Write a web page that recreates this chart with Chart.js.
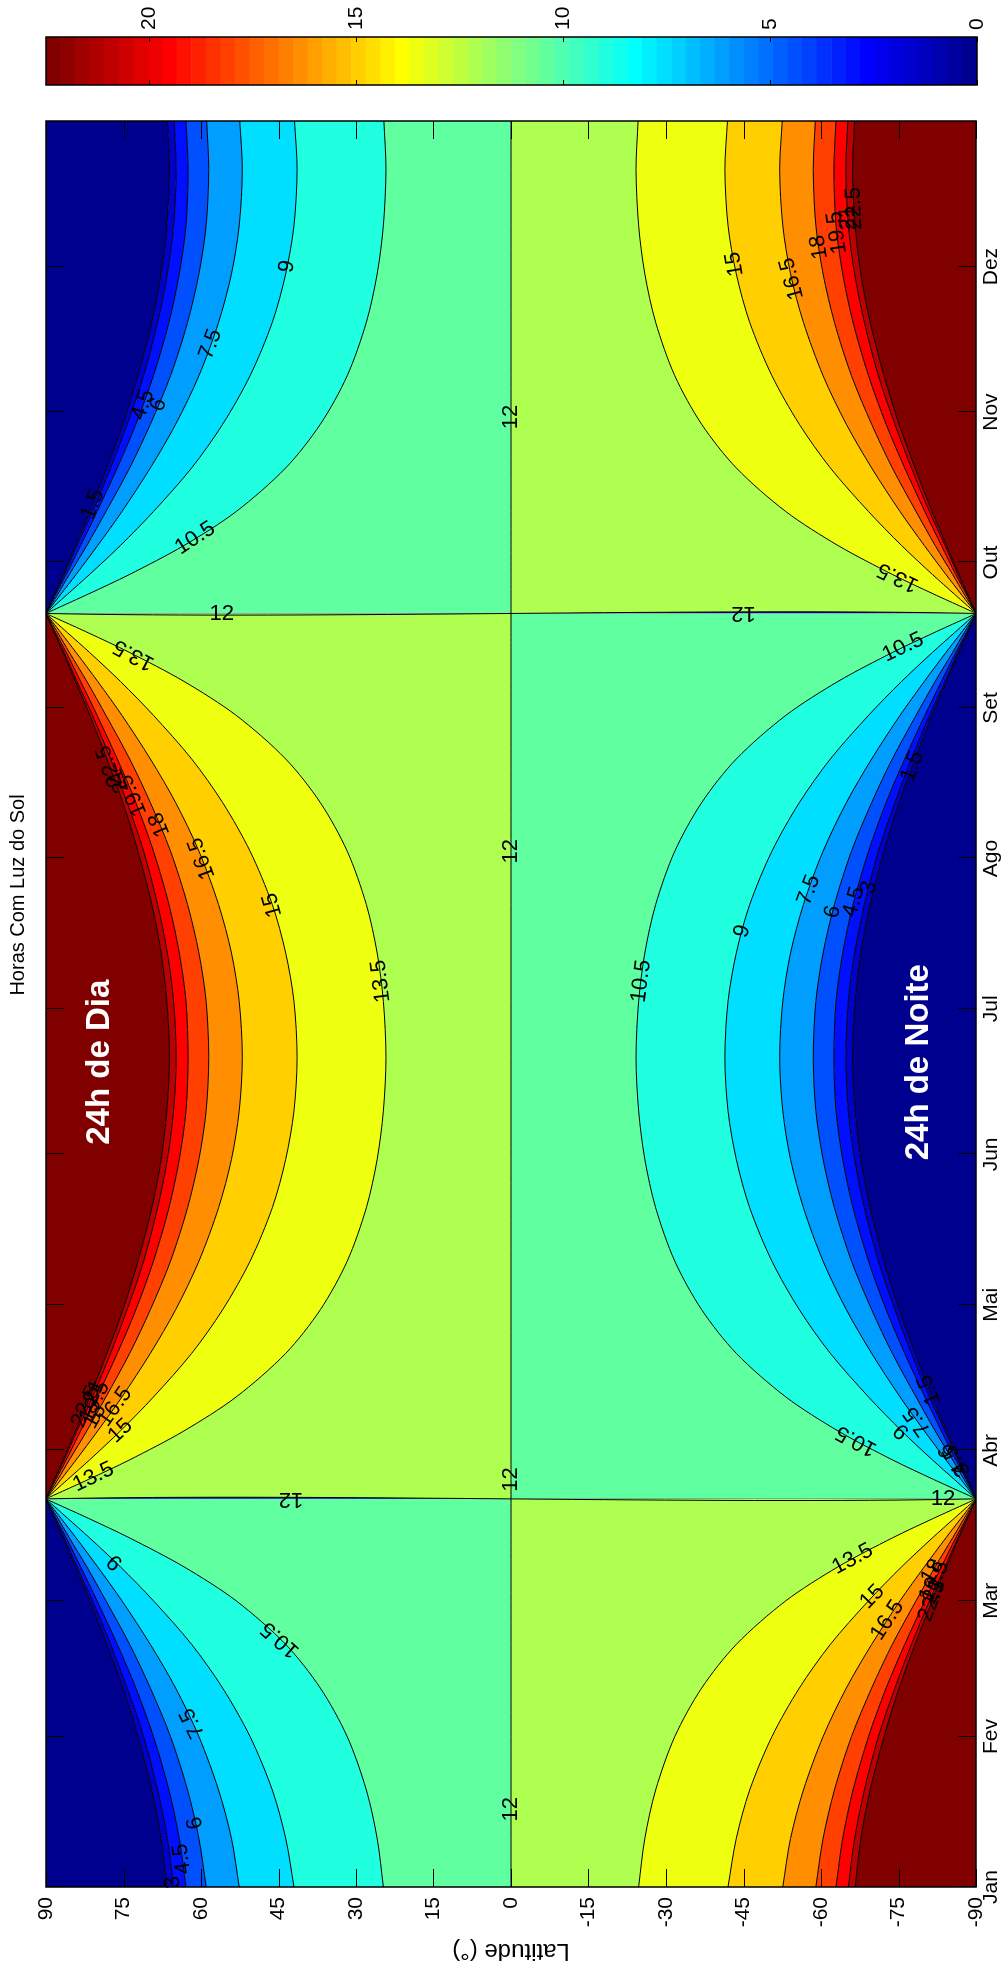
<!DOCTYPE html>
<html>
<head>
<meta charset="utf-8">
<script src="https://cdn.jsdelivr.net/npm/chart.js@4.4.0/dist/chart.umd.min.js"></script>
<style>
html, body { margin: 0; padding: 0; background: #fff; overflow: hidden; width: 1006px; height: 1972px; }
#fig { position: absolute; left: 0; top: 0; width: 1972px; height: 1006px; transform-origin: 0 0; transform: translate(0px, 1972px) rotate(-90deg); }
#main { position: absolute; left: 0; top: 0; }
#cbar { position: absolute; left: 1872px; top: 0; }
</style>
</head>
<body>
<div id="fig">
  <canvas id="main" width="1972" height="1006"></canvas>
  <canvas id="cbar" width="100" height="1006"></canvas>
</div>
<script>
// dia do ano das amostras (81 e 263.5 = equinocios, repetidos para o salto)
var days = [1, 11, 21, 32, 42, 51, 60, 67, 73, 77, 81, 81, 85, 89, 95, 102, 111, 120, 130, 141, 151, 161, 172,
  183.5, 193.5, 203.5, 214.5, 224.5, 233.5, 242.5, 249.5, 255.5, 259.5, 263.5, 263.5,
  267.5, 271.5, 277.5, 284.5, 293.5, 302.5, 312.5, 323.5, 333.5, 343.5, 355, 365];

// latitude de cada curva de nivel (horas de sol) em cada dia
var lat1_5 = [66.6, 67.7, 69.5, 72.2, 75.1, 78.2, 81.5, 84.3, 86.7, 88.4, 90, -90, -88.4, -86.7, -84.3, -81.5, -78.2, -75.1, -72.2, -69.5, -67.7, -66.6, -66.1, -66.6, -67.7, -69.5, -72.2, -75.1, -78.2, -81.5, -84.3, -86.7, -88.4, -90, 90, 88.4, 86.7, 84.3, 81.5, 78.2, 75.1, 72.2, 69.5, 67.7, 66.6, 66.1, 66.5];
var lat3 = [65.3, 66.5, 68.4, 71.1, 74.3, 77.5, 81.0, 84.0, 86.5, 88.3, 90, -90, -88.3, -86.5, -84.0, -81.0, -77.5, -74.3, -71.1, -68.4, -66.5, -65.3, -64.8, -65.3, -66.5, -68.4, -71.1, -74.3, -77.5, -81.0, -84.0, -86.5, -88.3, -90, 90, 88.3, 86.5, 84.0, 81.0, 77.5, 74.3, 71.1, 68.4, 66.5, 65.3, 64.8, 65.2];
var lat4_5 = [62.9, 64.2, 66.2, 69.2, 72.6, 76.2, 80.1, 83.3, 86.1, 88.1, 90, -90, -88.1, -86.1, -83.3, -80.1, -76.2, -72.6, -69.2, -66.2, -64.2, -62.9, -62.5, -62.9, -64.2, -66.2, -69.2, -72.6, -76.2, -80.1, -83.3, -86.1, -88.1, -90, 90, 88.1, 86.1, 83.3, 80.1, 76.2, 72.6, 69.2, 66.2, 64.2, 62.9, 62.5, 62.9];
var lat6 = [59.0, 60.4, 62.6, 65.9, 69.8, 73.8, 78.4, 82.1, 85.5, 87.7, 90, -90, -87.7, -85.5, -82.1, -78.4, -73.8, -69.8, -65.9, -62.6, -60.4, -59.0, -58.5, -59.0, -60.4, -62.6, -65.9, -69.8, -73.8, -78.4, -82.1, -85.5, -87.7, -90, 90, 87.7, 85.5, 82.1, 78.4, 73.8, 69.8, 65.9, 62.6, 60.4, 59.0, 58.5, 58.9];
var lat7_5 = [52.6, 54.1, 56.6, 60.4, 64.9, 69.8, 75.3, 80.0, 84.2, 87.1, 90, -90, -87.1, -84.2, -80.0, -75.3, -69.8, -64.9, -60.4, -56.6, -54.1, -52.6, -52.0, -52.6, -54.1, -56.6, -60.4, -64.9, -69.8, -75.3, -80.0, -84.2, -87.1, -90, 90, 87.1, 84.2, 80.0, 75.3, 69.8, 64.9, 60.4, 56.6, 54.1, 52.6, 52.0, 52.5];
var lat9 = [42.0, 43.6, 46.2, 50.5, 55.8, 61.8, 69.2, 75.6, 81.6, 85.8, 90, -90, -85.8, -81.6, -75.6, -69.2, -61.8, -55.8, -50.5, -46.2, -43.6, -42.0, -41.4, -42.0, -43.6, -46.2, -50.5, -55.8, -61.8, -69.2, -75.6, -81.6, -85.8, -90, 90, 85.8, 81.6, 75.6, 69.2, 61.8, 55.8, 50.5, 46.2, 43.6, 42.0, 41.4, 41.9];
var lat10_5 = [24.7, 25.9, 28.0, 31.7, 36.9, 43.6, 53.2, 63.3, 73.9, 81.8, 90, -90, -81.8, -73.9, -63.3, -53.2, -43.6, -36.9, -31.7, -28.0, -25.9, -24.7, -24.2, -24.7, -25.9, -28.0, -31.7, -36.9, -43.6, -53.2, -63.3, -73.9, -81.8, -90, 90, 81.8, 73.9, 63.3, 53.2, 43.6, 36.9, 31.7, 28.0, 25.9, 24.7, 24.2, 24.6];
var lat12 = [0, 0, 0, 0, 0, 0, 0, 0, 0, 0, 0, 0, 0, 0, 0, 0, 0, 0, 0, 0, 0, 0, 0, 0, 0, 0, 0, 0, 0, 0, 0, 0, 0, 0, 0, 0, 0, 0, 0, 0, 0, 0, 0, 0, 0, 0, 0];
var lat13_5 = [-24.7, -25.9, -28.0, -31.7, -36.9, -43.6, -53.2, -63.3, -73.9, -81.8, -90, 90, 81.8, 73.9, 63.3, 53.2, 43.6, 36.9, 31.7, 28.0, 25.9, 24.7, 24.2, 24.7, 25.9, 28.0, 31.7, 36.9, 43.6, 53.2, 63.3, 73.9, 81.8, 90, -90, -81.8, -73.9, -63.3, -53.2, -43.6, -36.9, -31.7, -28.0, -25.9, -24.7, -24.2, -24.6];
var lat15 = [-42.0, -43.6, -46.2, -50.5, -55.8, -61.8, -69.2, -75.6, -81.6, -85.8, -90, 90, 85.8, 81.6, 75.6, 69.2, 61.8, 55.8, 50.5, 46.2, 43.6, 42.0, 41.4, 42.0, 43.6, 46.2, 50.5, 55.8, 61.8, 69.2, 75.6, 81.6, 85.8, 90, -90, -85.8, -81.6, -75.6, -69.2, -61.8, -55.8, -50.5, -46.2, -43.6, -42.0, -41.4, -41.9];
var lat16_5 = [-52.6, -54.1, -56.6, -60.4, -64.9, -69.8, -75.3, -80.0, -84.2, -87.1, -90, 90, 87.1, 84.2, 80.0, 75.3, 69.8, 64.9, 60.4, 56.6, 54.1, 52.6, 52.0, 52.6, 54.1, 56.6, 60.4, 64.9, 69.8, 75.3, 80.0, 84.2, 87.1, 90, -90, -87.1, -84.2, -80.0, -75.3, -69.8, -64.9, -60.4, -56.6, -54.1, -52.6, -52.0, -52.5];
var lat18 = [-59.0, -60.4, -62.6, -65.9, -69.8, -73.8, -78.4, -82.1, -85.5, -87.7, -90, 90, 87.7, 85.5, 82.1, 78.4, 73.8, 69.8, 65.9, 62.6, 60.4, 59.0, 58.5, 59.0, 60.4, 62.6, 65.9, 69.8, 73.8, 78.4, 82.1, 85.5, 87.7, 90, -90, -87.7, -85.5, -82.1, -78.4, -73.8, -69.8, -65.9, -62.6, -60.4, -59.0, -58.5, -58.9];
var lat19_5 = [-62.9, -64.2, -66.2, -69.2, -72.6, -76.2, -80.1, -83.3, -86.1, -88.1, -90, 90, 88.1, 86.1, 83.3, 80.1, 76.2, 72.6, 69.2, 66.2, 64.2, 62.9, 62.5, 62.9, 64.2, 66.2, 69.2, 72.6, 76.2, 80.1, 83.3, 86.1, 88.1, 90, -90, -88.1, -86.1, -83.3, -80.1, -76.2, -72.6, -69.2, -66.2, -64.2, -62.9, -62.5, -62.9];
var lat21 = [-65.3, -66.5, -68.4, -71.1, -74.3, -77.5, -81.0, -84.0, -86.5, -88.3, -90, 90, 88.3, 86.5, 84.0, 81.0, 77.5, 74.3, 71.1, 68.4, 66.5, 65.3, 64.8, 65.3, 66.5, 68.4, 71.1, 74.3, 77.5, 81.0, 84.0, 86.5, 88.3, 90, -90, -88.3, -86.5, -84.0, -81.0, -77.5, -74.3, -71.1, -68.4, -66.5, -65.3, -64.8, -65.2];
var lat22_5 = [-66.6, -67.7, -69.5, -72.2, -75.1, -78.2, -81.5, -84.3, -86.7, -88.4, -90, 90, 88.4, 86.7, 84.3, 81.5, 78.2, 75.1, 72.2, 69.5, 67.7, 66.6, 66.1, 66.6, 67.7, 69.5, 72.2, 75.1, 78.2, 81.5, 84.3, 86.7, 88.4, 90, -90, -88.4, -86.7, -84.3, -81.5, -78.2, -75.1, -72.2, -69.5, -67.7, -66.6, -66.1, -66.5];

var levels = [1.5, 3, 4.5, 6, 7.5, 9, 10.5, 12, 13.5, 15, 16.5, 18, 19.5, 21, 22.5];
var levelLats = [lat1_5, lat3, lat4_5, lat6, lat7_5, lat9, lat10_5, lat12, lat13_5, lat15, lat16_5, lat18, lat19_5, lat21, lat22_5];

var monthDays = [1, 32, 60, 91, 121, 152, 182, 213, 244, 274, 305, 335];
var monthNames = ['Jan', 'Fev', 'Mar', 'Abr', 'Mai', 'Jun', 'Jul', 'Ago', 'Set', 'Out', 'Nov', 'Dez'];
var latTicks = [-90, -75, -60, -45, -30, -15, 0, 15, 30, 45, 60, 75, 90];
var cbarTicks = [0, 5, 10, 15, 20];
var cbarMax = 22.5;

// rotulos das curvas: [nivel, dia]
var labelSpots = [
  [9, 335], [7.5, 319], [6, 306.5], [4.5, 306.5], [1.5, 286], [10.5, 279], [12, 304],
  [15, 335.5], [16.5, 332.5], [18, 339], [19.5, 342], [21, 345], [22.5, 347], [13.5, 271],
  [13.5, 255], [10.5, 256.5], [1.5, 232], [12, 214.5], [16.5, 213], [18, 220], [19.5, 226], [21, 229], [22.5, 232],
  [15, 203.4], [9, 198], [7.5, 206.5], [6, 202], [4.5, 204], [3, 207], [13.5, 187.7], [10.5, 187.7],
  [13.5, 85.5], [15, 95], [16.5, 100], [18, 98], [19.5, 101], [21, 103], [22.5, 100],
  [1.5, 103.5], [3, 87], [4.5, 89], [6, 91], [7.5, 97], [9, 95], [10.5, 93], [12, 85],
  [13.5, 68.6], [15, 60.8], [16.5, 56], [18, 66], [19.5, 64], [21, 62], [22.5, 60],
  [9, 68], [10.5, 52], [7.5, 34.8], [6, 14.2], [4.5, 6.8], [3, 2], [12, 17]
];
// rotulos "12" sobre as linhas dos equinocios: [dia, latitude, sentido]
var eqLabels = [[263.5, 56, 1], [263.5, -45, -1], [81, 42.6, -1], [81, -83.6, 1]];

var FONT = "'Liberation Sans', Arial, Helvetica, sans-serif";
Chart.defaults.font.family = FONT;
Chart.defaults.color = '#000';

// colormap jet(64) do MATLAB
function jetColor(k) {
  function u(j) {
    if (j < 1 || j > 47) return 0;
    if (j <= 16) return j / 16;
    if (j <= 31) return 1;
    return (48 - j) / 16;
  }
  var r = u(k - 24), g = u(k - 8), b = u(k + 8);
  return 'rgb(' + Math.round(r * 255) + ',' + Math.round(g * 255) + ',' + Math.round(b * 255) + ')';
}
function bandColor(lv) {
  return jetColor(Math.min(64, Math.floor(lv / cbarMax * 64 + 1e-9) + 1));
}

function pts(arr) {
  return days.map(function (d, i) { return { x: d, y: arr[i] }; });
}

var poleLow = days.map(function (d, i) { return lat1_5[i] > 0 ? 90 : -90; });
var poleHigh = poleLow.map(function (v) { return -v; });

// so a primeira curva desenha a linha do equinocio (evita linhas sobrepostas)
function jumpSegment(keep) {
  return {
    borderColor: function (c) {
      if (!keep && days[c.p0DataIndex] === days[c.p1DataIndex]) return 'rgba(0,0,0,0)';
      return undefined;
    }
  };
}

var datasets = [{ data: pts(poleLow), borderWidth: 0, pointRadius: 0, fill: false }];
var lowers = [0].concat(levels);
levelLats.forEach(function (arr, k) {
  datasets.push({
    data: pts(arr), borderColor: '#000', borderWidth: 1, pointRadius: 0,
    fill: '-1', backgroundColor: bandColor(lowers[k]),
    segment: jumpSegment(k === 0)
  });
});
datasets.push({ data: pts(poleHigh), borderWidth: 0, pointRadius: 0, fill: '-1', backgroundColor: bandColor(22.5) });

function latAt(arr, day) {
  for (var i = 0; i < days.length - 1; i++) {
    if (days[i] <= day && day <= days[i + 1] && days[i + 1] > days[i]) {
      var t = (day - days[i]) / (days[i + 1] - days[i]);
      return { lat: arr[i] + t * (arr[i + 1] - arr[i]), i: i };
    }
  }
  return null;
}

var contourText = {
  id: 'contourText',
  afterDatasetsDraw: function (chart) {
    var ctx = chart.ctx, xs = chart.scales.x, ys = chart.scales.y;
    ctx.save();
    ctx.fillStyle = '#000';
    ctx.font = '22px ' + FONT;
    ctx.textAlign = 'center';
    ctx.textBaseline = 'middle';
    labelSpots.forEach(function (s) {
      var arr = levelLats[levels.indexOf(s[0])];
      var p = latAt(arr, s[1]);
      if (!p) return;
      var x1 = xs.getPixelForValue(days[p.i]), y1 = ys.getPixelForValue(arr[p.i]);
      var x2 = xs.getPixelForValue(days[p.i + 1]), y2 = ys.getPixelForValue(arr[p.i + 1]);
      var a = Math.atan2(y2 - y1, x2 - x1);
      if (a > Math.PI / 2) a -= Math.PI;
      if (a < -Math.PI / 2) a += Math.PI;
      ctx.save();
      ctx.translate(xs.getPixelForValue(s[1]), ys.getPixelForValue(p.lat));
      ctx.rotate(a);
      ctx.fillText(String(s[0]), 0, 0);
      ctx.restore();
    });
    eqLabels.forEach(function (s) {
      ctx.save();
      ctx.translate(xs.getPixelForValue(s[0]), ys.getPixelForValue(s[1]));
      ctx.rotate(s[2] * Math.PI / 2);
      ctx.fillText('12', 0, 0);
      ctx.restore();
    });
    ctx.fillStyle = '#fff';
    ctx.font = 'bold 33px ' + FONT;
    ctx.fillText('24h de Dia', xs.getPixelForValue(171), ys.getPixelForValue(79.5));
    ctx.fillText('24h de Noite', xs.getPixelForValue(171), ys.getPixelForValue(-79));
    ctx.restore();
  }
};

var axisFrame = {
  id: 'axisFrame',
  afterDraw: function (chart) {
    var a = chart.chartArea, ctx = chart.ctx, xs = chart.scales.x, ys = chart.scales.y;
    ctx.save();
    ctx.strokeStyle = '#000';
    ctx.lineWidth = 1;
    ctx.beginPath();
    monthDays.forEach(function (d) {
      var px = Math.round(xs.getPixelForValue(d)) + 0.5;
      ctx.moveTo(px, a.bottom); ctx.lineTo(px, a.bottom - 18);
      ctx.moveTo(px, a.top); ctx.lineTo(px, a.top + 18);
    });
    latTicks.forEach(function (v) {
      var py = Math.round(ys.getPixelForValue(v)) + 0.5;
      ctx.moveTo(a.left, py); ctx.lineTo(a.left + 18, py);
      ctx.moveTo(a.right, py); ctx.lineTo(a.right - 18, py);
    });
    ctx.stroke();
    ctx.lineWidth = 1.5;
    ctx.strokeRect(a.left, a.top, a.right - a.left, a.bottom - a.top);
    // titulo
    ctx.fillStyle = '#000';
    ctx.font = '20px ' + FONT;
    ctx.textAlign = 'center';
    ctx.textBaseline = 'middle';
    ctx.fillText('Horas Com Luz do Sol', 1077, 18);
    ctx.restore();
  }
};

new Chart(document.getElementById('main'), {
  type: 'line',
  data: { datasets: datasets },
  options: {
    responsive: false,
    animation: false,
    events: [],
    parsing: false,
    elements: { line: { tension: 0.3 } },
    layout: { padding: { right: 121, top: 46 } },
    plugins: {
      legend: { display: false },
      tooltip: { enabled: false },
      title: { display: false }
    },
    scales: {
      x: {
        type: 'linear', min: 1, max: 365,
        afterBuildTicks: function (s) { s.ticks = monthDays.map(function (d) { return { value: d }; }); },
        afterFit: function (s) { s.height = 30; },
        grid: { display: false, drawTicks: false },
        border: { display: false },
        ticks: {
          autoSkip: false, maxRotation: 0, padding: 3, font: { size: 21 },
          callback: function (v) { var i = monthDays.indexOf(v); return i >= 0 ? monthNames[i] : ''; }
        }
      },
      y: {
        type: 'linear', min: -90, max: 90,
        afterBuildTicks: function (s) { s.ticks = latTicks.map(function (v) { return { value: v }; }); },
        afterFit: function (s) { s.width = 85; },
        grid: { display: false, drawTicks: false },
        border: { display: false },
        title: { display: true, text: 'Latitude (°)', font: { size: 24 }, padding: { top: 7, bottom: 0 } },
        ticks: { padding: 10, font: { size: 21 } }
      }
    }
  },
  plugins: [contourText, axisFrame]
});

// barra de cores
var cbarSets = [];
for (var k = 1; k <= 64; k++) {
  cbarSets.push({ data: [cbarMax / 64], backgroundColor: jetColor(k), borderWidth: 0, barPercentage: 1, categoryPercentage: 1 });
}

var cbarFrame = {
  id: 'cbarFrame',
  afterDraw: function (chart) {
    var a = chart.chartArea, ctx = chart.ctx, ys = chart.scales.y;
    ctx.save();
    ctx.strokeStyle = '#000';
    ctx.lineWidth = 1;
    ctx.beginPath();
    cbarTicks.forEach(function (v) {
      var py = Math.round(ys.getPixelForValue(v)) + 0.5;
      ctx.moveTo(a.left, py); ctx.lineTo(a.left + 5, py);
      ctx.moveTo(a.right, py); ctx.lineTo(a.right - 5, py);
    });
    ctx.stroke();
    ctx.lineWidth = 1.5;
    ctx.strokeRect(a.left, a.top, a.right - a.left, a.bottom - a.top);
    ctx.restore();
  }
};

new Chart(document.getElementById('cbar'), {
  type: 'bar',
  data: { labels: [''], datasets: cbarSets },
  options: {
    responsive: false,
    animation: false,
    events: [],
    layout: { padding: { left: 15, top: 46, bottom: 29, right: 0 } },
    plugins: { legend: { display: false }, tooltip: { enabled: false } },
    scales: {
      x: { display: false, stacked: true },
      y: {
        position: 'right', stacked: true, min: 0, max: cbarMax,
        afterBuildTicks: function (s) { s.ticks = cbarTicks.map(function (v) { return { value: v }; }); },
        afterFit: function (s) { s.width = 37; },
        grid: { display: false, drawTicks: false },
        border: { display: false },
        ticks: { padding: 7, font: { size: 21 } }
      }
    }
  },
  plugins: [cbarFrame]
});
</script>
</body>
</html>
